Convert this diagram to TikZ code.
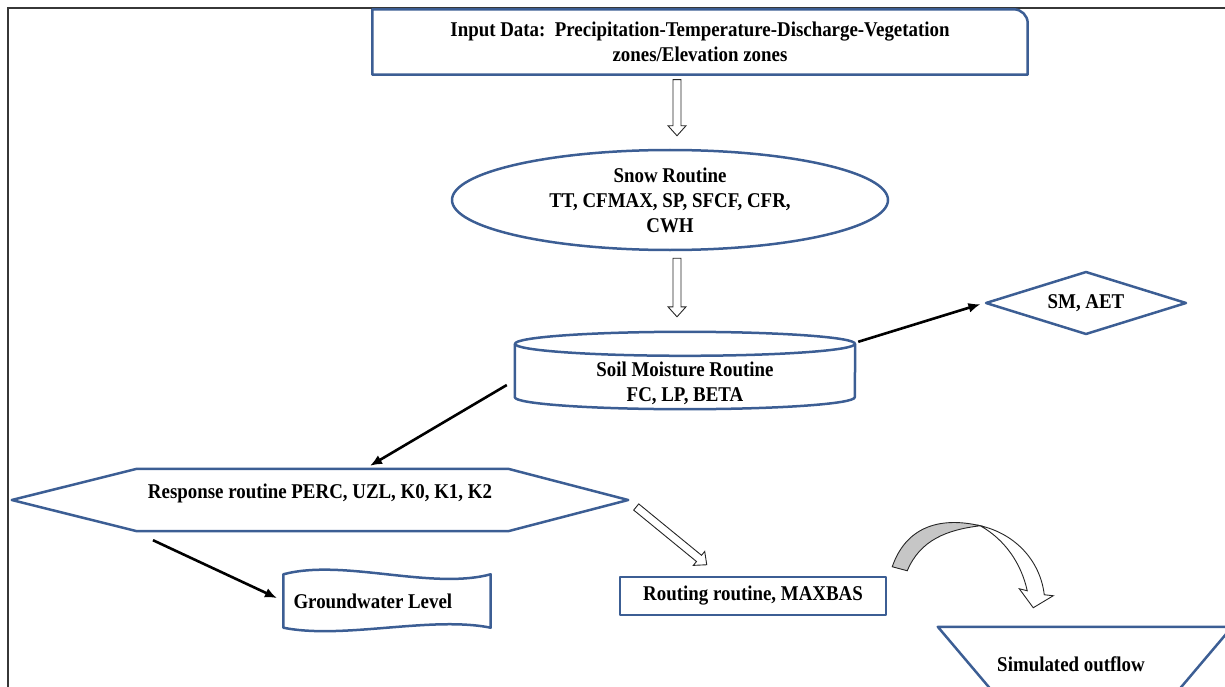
\documentclass[tikz,border=0pt]{standalone}
\usepackage{fontspec}
\setmainfont{Liberation Serif}[FakeStretch=0.9]
\usetikzlibrary{arrows.meta,shapes.geometric,calc}
\definecolor{shapeblue}{RGB}{60,94,148}
\definecolor{framegray}{RGB}{55,55,55}
\newcommand{\hollowarrow}[2]{%
  \draw[hollow] ($(#1)!4pt!90:(#2)$) -- ($(#2)!10pt!(#1)!4pt!-90:(#1)$) -- ($(#2)!10pt!(#1)!9pt!-90:(#1)$) -- (#2)
    -- ($(#2)!10pt!(#1)!9pt!90:(#1)$) -- ($(#2)!10pt!(#1)!4pt!90:(#1)$) -- ($(#1)!4pt!-90:(#2)$) -- cycle;}

\begin{document}
\begin{tikzpicture}[x=1pt,y=-1pt,
    box/.style={draw=none,align=center,inner sep=0pt,font=\bfseries\fontsize{21}{25}\selectfont},
    outline/.style={draw=shapeblue,line width=2.5pt,line join=round},
    hollow/.style={draw=black!85,line width=0.9pt,fill=white},
    link/.style={-{Latex[length=12pt,width=10pt]},line width=2.6pt,black}]
    \useasboundingbox (0,0) rectangle (1225,687);
    \draw[framegray,line width=1.8pt] (8,687) -- (8,8) -- (1225,8);

    \node[box,minimum width=655pt,minimum height=65pt] (input) at (700,42) {Input Data:\ \ Precipitation-Temperature-Discharge-Vegetation\\zones/Elevation zones};
    \draw[outline] (input.south west) -- (input.north west) -- ([xshift=-14pt]input.north east) arc[start angle=90,end angle=0,radius=14pt] -- (input.south east) -- cycle;

    \node[box,ellipse,outline,minimum width=436pt,minimum height=100pt] (snow) at (670,200) {Snow Routine\\TT, CFMAX, SP, SFCF, CFR,\\CWH};

    \node[box,minimum width=340pt,minimum height=52pt] (soil) at (685,383) {Soil Moisture Routine\\FC, LP, BETA};
    \draw[outline] ([yshift=13pt]soil.north west) -- ([yshift=12pt]soil.south west) arc[start angle=180,end angle=360,x radius=170pt,y radius=12pt] -- ([yshift=13pt]soil.north east);
    \draw[outline] ([yshift=13pt]soil.north) ellipse[x radius=170pt,y radius=12pt];

    \node[box,diamond,outline,aspect=3.2,minimum width=201pt,minimum height=63pt] (sm) at (1086,303) {SM, AET};

    \node[box,minimum width=616pt,minimum height=62pt,text height=14pt,text depth=18pt] (resp) at (320,500) {Response routine PERC, UZL, K0, K1, K2};
    \draw[outline] (resp.west) -- ([xshift=125pt]resp.north west) -- ([xshift=-120pt]resp.north east) -- (resp.east) -- ([xshift=-120pt]resp.south east) -- ([xshift=125pt]resp.south west) -- cycle;

    \node[box,text width=187pt,align=flush left,inner xsep=10pt,minimum height=53pt] (gw) at (387,601) {Groundwater Level};
    \draw[outline] (gw.north west) .. controls +(60pt,16pt) and +(-60pt,-16pt) .. (gw.north east) -- (gw.south east) .. controls +(-60pt,12pt) and +(60pt,-12pt) .. (gw.south west) -- cycle;

    \node[box,outline,minimum width=266pt,minimum height=38pt] (route) at (753,596) {Routing routine, MAXBAS};

    \node[box,minimum width=266pt,minimum height=74pt] (out) at (1071,664) {Simulated outflow};
    \draw[outline] (out.north west) -- ([xshift=28pt]out.north east) -- ([xshift=-35pt]out.south east) -- ([xshift=63pt]out.south west) -- cycle;

    \coordinate (h1s) at ([xshift=-23pt,yshift=-5pt]input.south);
    \coordinate (h1e) at ([xshift=7pt,yshift=13pt]snow.north);
    \coordinate (h2s) at ([xshift=7pt,yshift=-7pt]snow.south);
    \coordinate (h2e) at ([xshift=-8pt,yshift=40pt]soil.north);
    \coordinate (h3s) at ([xshift=8pt,yshift=-7pt]resp.east);
    \coordinate (h3e) at ([xshift=88pt,yshift=11pt]route.north west);
    \hollowarrow{h1s}{h1e}
    \hollowarrow{h2s}{h2e}
    \hollowarrow{h3s}{h3e}

    \coordinate (a1s) at ([xshift=3pt,yshift=15pt]soil.north east);
    \coordinate (a2s) at ([xshift=-8pt,yshift=-2pt]soil.west);
    \coordinate (a2e) at ([xshift=50pt,yshift=3pt]resp.north);
    \coordinate (a3s) at ([xshift=-167pt,yshift=-9pt]resp.south);
    \draw[link,shorten >=4pt] (a1s) -- (sm.west);
    \draw[link] (a2s) -- (a2e);
    \draw[link,shorten >=7pt] (a3s) -- (gw.west);

    \begin{scope}[shift={(route.north east)}]
        \fill[gray!45,draw=black!85,line width=0.9pt] (5,-9) .. controls (18,-47) and (50,-60) .. (93,-50) .. controls (60,-46) and (33,-36) .. (20,-5) -- cycle;
        \draw[hollow] (93,-50) .. controls (128,-42) and (153,-15) .. (157,19) -- (166,20) -- (146,32) -- (132,13) -- (140,15) .. controls (134,-12) and (118,-36) .. (93,-50) -- cycle;
    \end{scope}
\end{tikzpicture}
\end{document}
